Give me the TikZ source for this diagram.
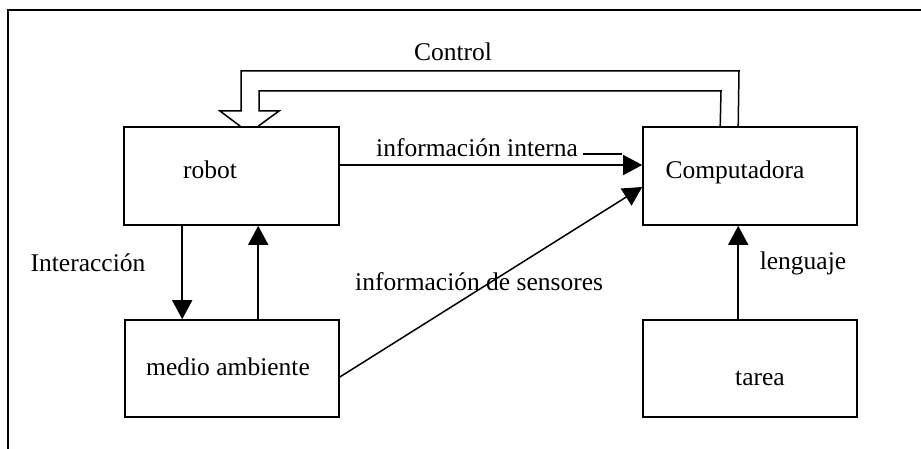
\documentclass[tikz,border=0pt]{standalone}
\usepackage{fontspec}
\setmainfont{Liberation Serif}
\usetikzlibrary{arrows.meta,calc}
\begin{document}
\begin{tikzpicture}[x=1pt,y=-1pt,
  box/.style={draw,line width=1.6pt,minimum width=214pt,minimum height=97pt,inner sep=0pt},
  lbl/.style={inner sep=0pt,font=\fontsize{25.5}{30}\selectfont},
  arr/.style={line width=1.5pt,-{Triangle[length=19pt,width=20pt]}},
  ln/.style={line width=1.5pt}]
\useasboundingbox (0,0) rectangle (921,449);
\draw[line width=1.6pt] (8,449) -- (8,10) -- (921,10);
% boxes
\node[box,minimum width=215pt,minimum height=98pt] (robot) at (231.5,176) {};
\node[box,minimum height=98pt] (comp) at (750,176) {};
\node[box] (medio) at (232,368.5) {};
\node[box] (tarea) at (750,368.5) {};
% texts
\node[lbl] (trobot) at (210,170) {robot};
\node[lbl] (tcomp) at (735,172) {Computadora};
\node[lbl] (tmedio) at (228,367) {medio ambiente};
\node[lbl] (ttarea) at (760,378) {tarea};
\node[lbl] (tinter) at (88,263) {Interacción};
\node[lbl] (tleng) at (803,263) {lenguaje};
\node[lbl] (tcontrol) at (453,52) {Control};
\node[lbl,anchor=west] (tinterna) at (376,148) {información interna};
\node[lbl,anchor=west] (tsens) at (355,282) {información de sensores};
% connectors
\draw[arr] ($(robot.south west)+(59,0)$) -- ($(medio.north west)+(58,0)$);
\draw[arr] ($(medio.north west)+(134,0)$) -- ($(robot.south west)+(135,0)$);
\draw[arr] ($(robot.east)+(0,-11)$) -- ($(comp.west)+(0,-11)$);
\draw[ln] (583,154) -- (622,154);
\draw[arr] ($(medio.east)+(0,8.5)$) -- ($(comp.west)+(0,11)$);
\draw[arr] ($(tarea.north west)+(96,0)$) -- ($(comp.south west)+(96,0)$);
% hollow control arrow
\draw[ln,line join=miter] ($(comp.north west)+(78,0)$) -- (721,91) -- (259,91) -- (259,111) -- (279,111) -- ($(robot.north west)+(135,0)$);
\draw[ln,line join=miter] ($(robot.north west)+(117,0)$) -- (220,111) -- (241,111) -- (241,71) -- (739,71) -- ($(comp.north west)+(96,0)$);
\end{tikzpicture}
\end{document}
